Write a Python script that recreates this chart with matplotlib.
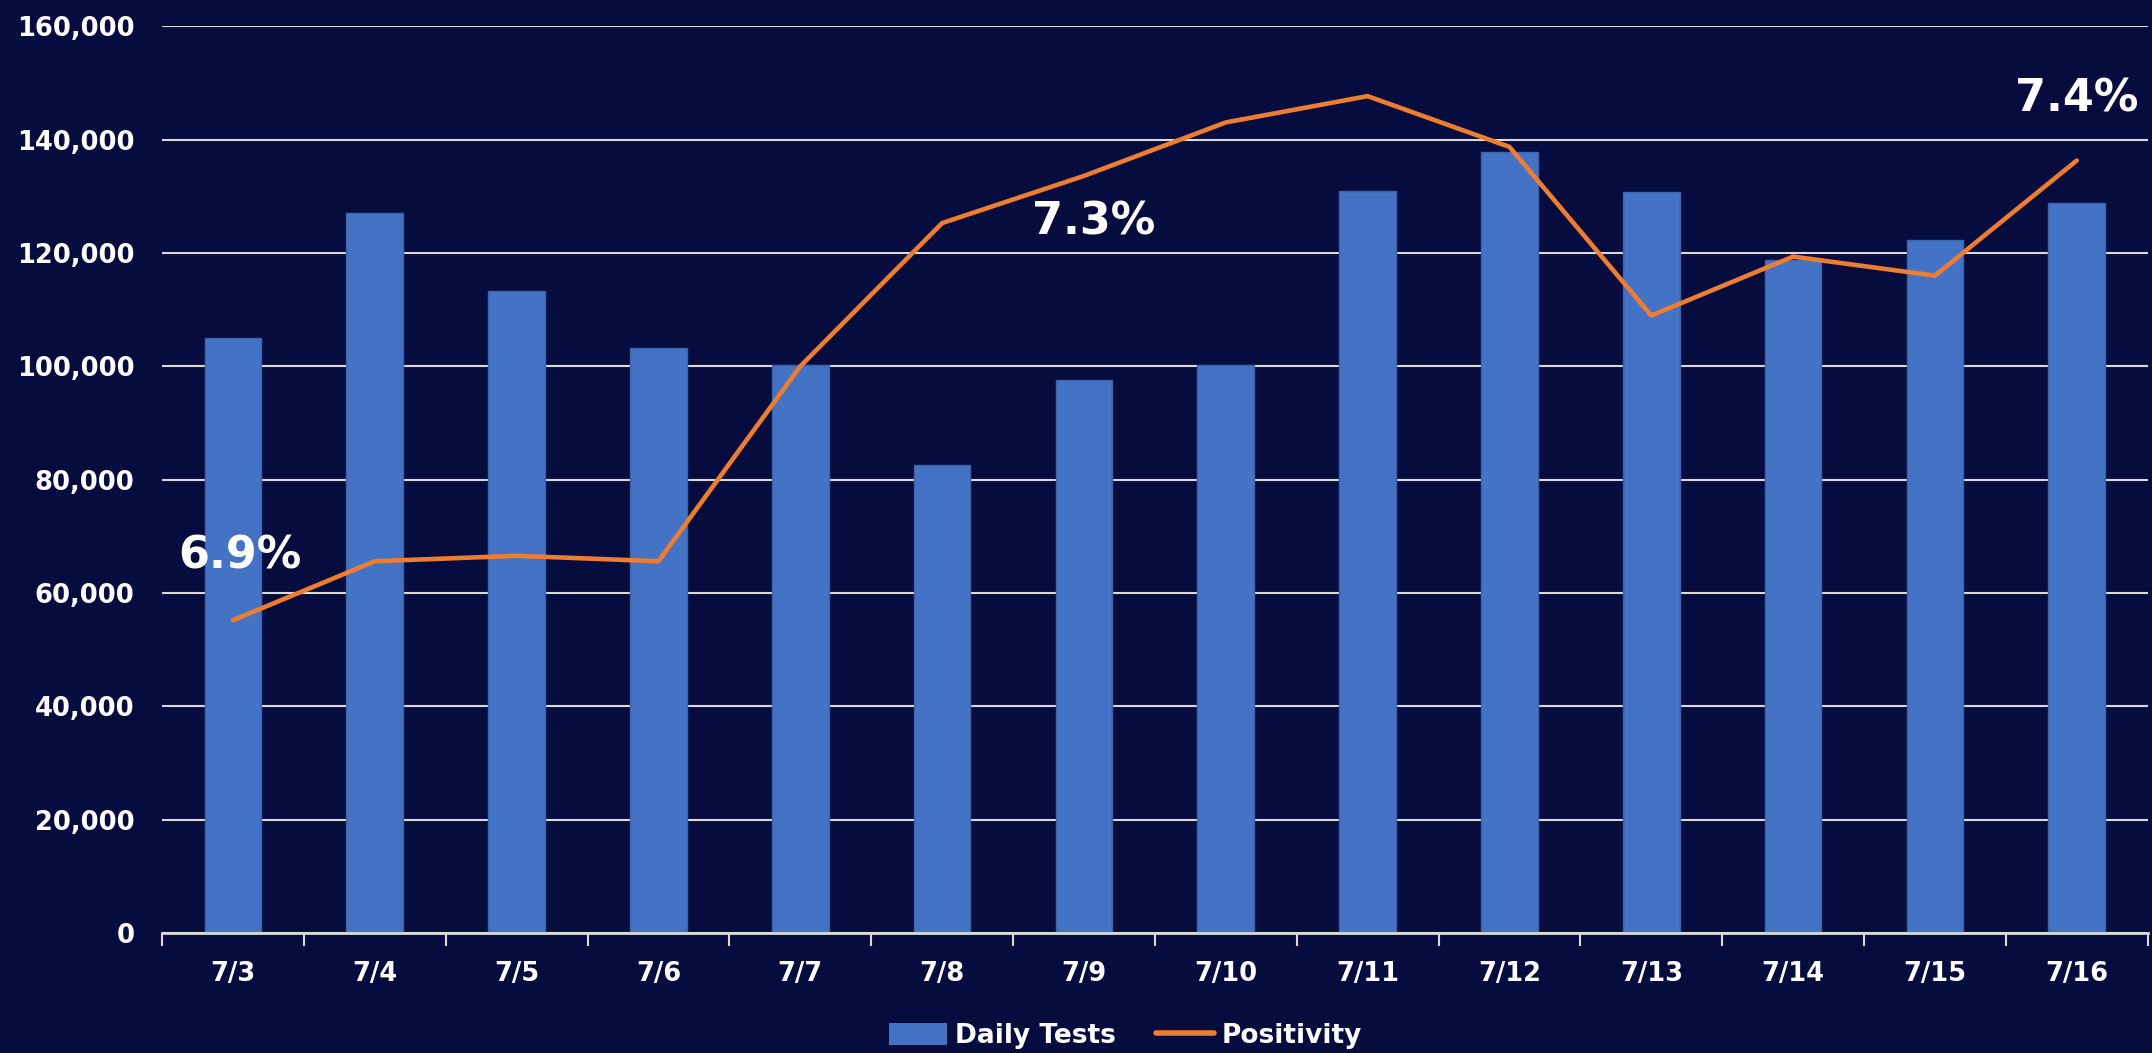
import matplotlib.pyplot as plt
from matplotlib.ticker import FuncFormatter, FixedLocator
from matplotlib.patches import Patch
from matplotlib.lines import Line2D

dates = ["7/3", "7/4", "7/5", "7/6", "7/7", "7/8", "7/9",
         "7/10", "7/11", "7/12", "7/13", "7/14", "7/15", "7/16"]
daily_tests = [105000, 127000, 113300, 103200, 100200, 82500, 97500,
               100300, 131000, 137800, 130800, 118800, 122300, 128800]
positivity = [6.895, 6.960, 6.966, 6.960, 7.175, 7.333, 7.385,
              7.444, 7.473, 7.417, 7.231, 7.296, 7.275, 7.402]

# labels shown on the chart: (category index, y in tests units, text)
callouts = [(0.05, 66600, "6.9%"), (6.07, 125400, "7.3%"), (13.0, 147200, "7.4%")]

bg = "#070c3e"
bar_color = "#4472c4"
line_color = "#ed7d31"
grid_color = "#d9d9d9"

plt.rcParams["font.family"] = ["DejaVu Sans"]
plt.rcParams["font.weight"] = "bold"

fig = plt.figure(figsize=(21.52, 10.53), dpi=100, facecolor=bg)
ax = fig.add_axes([0.0753, 0.114, 0.9227, 0.861])
ax.set_facecolor(bg)

x = list(range(len(dates)))
ax.bar(x, daily_tests, width=0.4, color=bar_color, edgecolor="#3a64b0", linewidth=1, zorder=2)

ax.set_xlim(-0.5, len(dates) - 0.5)
ax.set_ylim(0, 160000)
ax.set_yticks(range(0, 160001, 20000))
ax.yaxis.set_major_formatter(FuncFormatter(lambda v, p: f"{int(v):,}"))
ax.grid(axis="y", color=grid_color, linewidth=1.5, zorder=0)
ax.set_axisbelow(True)

for side in ["left", "right", "top"]:
    ax.spines[side].set_visible(False)
ax.spines["bottom"].set_color(grid_color)
ax.spines["bottom"].set_linewidth(2)

ax.set_xticks(x)
ax.set_xticklabels(dates)
ax.xaxis.set_minor_locator(FixedLocator([i - 0.5 for i in range(len(dates) + 1)]))
ax.tick_params(axis="x", which="major", length=0, pad=20, labelsize=18.5, labelcolor="white")
ax.tick_params(axis="x", which="minor", length=9, width=1.5, color=grid_color)
ax.tick_params(axis="y", length=0, pad=20, labelsize=18.5, labelcolor="white")
for lbl in ax.get_xticklabels() + ax.get_yticklabels():
    lbl.set_fontweight("bold")

ax2 = ax.twinx()
ax2.plot(x, positivity, color=line_color, linewidth=3.3, solid_capstyle="round", zorder=3)
ax2.set_ylim(6.55, 7.55)
ax2.axis("off")

for cx, cy, txt in callouts:
    ax.text(cx, cy, txt, color="white", fontsize=32, fontweight="bold",
            ha="center", va="center", zorder=5)

handles = [Patch(facecolor=bar_color, label="Daily Tests"),
           Line2D([0], [0], color=line_color, linewidth=4, solid_capstyle="round", label="Positivity")]
leg = fig.legend(handles=handles, loc="center", bbox_to_anchor=(0.523, 0.016), ncol=2,
                 frameon=False, fontsize=19, handlelength=2.2, handleheight=0.9,
                 columnspacing=1.5, handletextpad=0.3, labelcolor="white")
for t in leg.get_texts():
    t.set_fontweight("bold")

fig.savefig("out.png", dpi=100, facecolor=bg)
